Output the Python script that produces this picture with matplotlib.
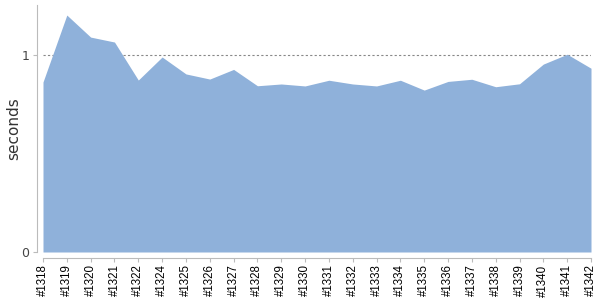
import matplotlib
matplotlib.use("Agg")
import matplotlib.pyplot as plt

builds = ["#1318", "#1319", "#1320", "#1321", "#1322", "#1324", "#1325",
          "#1326", "#1327", "#1328", "#1329", "#1330", "#1331", "#1332",
          "#1333", "#1334", "#1335", "#1336", "#1337", "#1338", "#1339",
          "#1340", "#1341", "#1342"]
seconds = [0.863, 1.203, 1.091, 1.066, 0.873, 0.990, 0.904,
           0.878, 0.927, 0.844, 0.853, 0.843, 0.872, 0.853,
           0.843, 0.872, 0.822, 0.866, 0.877, 0.839, 0.854,
           0.954, 1.004, 0.933]

fig = plt.figure(figsize=(6, 3), dpi=100)
ax = fig.add_axes([43 / 600, 1 - 252 / 300, 548 / 600, 247 / 300])

x = list(range(len(builds)))
ax.fill_between(x, seconds, 0, color="#8FB1DA", linewidth=0)

# reference line at 1 second
ax.axhline(1, color="#888888", linestyle=(0, (2, 2)), linewidth=0.8, zorder=0)

ax.set_xlim(0, len(builds) - 1)
ax.set_ylim(0, 1.254)
ax.set_xticks(x)
ax.set_xticklabels(builds)
ax.set_yticks([0, 1])
ax.set_yticklabels(["0", "1"])
ax.set_ylabel("seconds", fontsize=11, color="#333333", labelpad=0)

for side in ["top", "right"]:
    ax.spines[side].set_visible(False)
for side in ["left", "bottom"]:
    ax.spines[side].set_position(("outward", 4))
    ax.spines[side].set_color("#BBBBBB")
ax.tick_params(axis="both", color="#BBBBBB", length=3)
ax.tick_params(axis="x", labelcolor="black", labelrotation=90, pad=2,
               labelsize=8.3, labelfontfamily="Liberation Sans")
ax.tick_params(axis="y", labelcolor="#444444", pad=3, labelsize=9)

fig.savefig("out.png", dpi=100)
